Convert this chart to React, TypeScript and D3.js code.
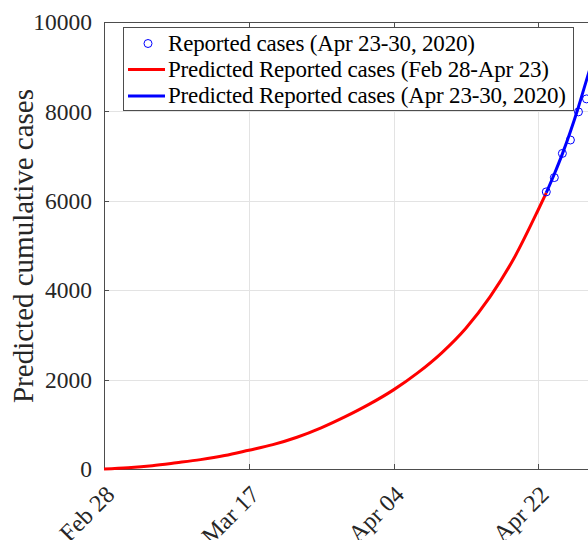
import React from 'react';
import * as d3 from 'd3';

// red fitted curve, Feb 28 - Apr 23
const fitDates = ['2020-02-28', '2020-03-02', '2020-03-05', '2020-03-08', '2020-03-11', '2020-03-14', '2020-03-17',
  '2020-03-20', '2020-03-23', '2020-03-26', '2020-03-29', '2020-04-01', '2020-04-04', '2020-04-07', '2020-04-10',
  '2020-04-13', '2020-04-16', '2020-04-19', '2020-04-22', '2020-04-23'];
const fitValues = [0, 30, 75, 140, 210, 300, 420, 545, 710, 920, 1170, 1450, 1770, 2150, 2600, 3150, 3850, 4720, 5800, 6180];

// blue prediction, Apr 23 - 30
const predDates = ['2020-04-23', '2020-04-24', '2020-04-25', '2020-04-26', '2020-04-27', '2020-04-28', '2020-04-29', '2020-04-30'];
const predValues = [6180, 6600, 7050, 7550, 8100, 8700, 9300, 9900];

// reported cases
const repDates = ['2020-04-23', '2020-04-24', '2020-04-25', '2020-04-26', '2020-04-27', '2020-04-28', '2020-04-29', '2020-04-30'];
const repValues = [6200, 6520, 7060, 7360, 7990, 8280, 8800, 9100];

const xTicks = ['2020-02-28', '2020-03-17', '2020-04-04', '2020-04-22', '2020-05-10'];
const yTicks = [0, 2000, 4000, 6000, 8000, 10000];

const legendLabels = [
  'Reported cases (Apr 23-30, 2020)',
  'Predicted Reported cases (Feb 28-Apr 23)',
  'Predicted Reported cases (Apr 23-30, 2020)',
];
const legendWidths = [307, 381, 398];

const W = 588;
const H = 540;
const serif = { fontFamily: "'Liberation Serif'" };

const parse = d3.utcParse('%Y-%m-%d');
const fmt = d3.utcFormat('%b %d');
const left = 104, top = 22, bottom = 469, right = 683;
const x = d3.scaleUtc().domain([parse('2020-02-28')!, parse('2020-05-10')!]).range([left, right]);
const y = d3.scaleLinear().domain([0, 10000]).range([bottom, top]);

type Pt = [string, number];
const line = d3.line<Pt>()
  .x(d => x(parse(d[0])!))
  .y(d => y(d[1]))
  .curve(d3.curveMonotoneX);

const fitPts = d3.zip<any>(fitDates, fitValues) as Pt[];
const predPts = d3.zip<any>(predDates, predValues) as Pt[];
const repPts = d3.zip<any>(repDates, repValues) as Pt[];

const px = (t: string) => Math.round(x(parse(t)!)) + 0.5;
const py = (v: number) => Math.round(y(v)) + 0.5;

const rowY = [43.5, 69.5, 96];

export default function App() {
  return (
    <svg width={W} height={H}
      style={{ position: 'absolute', left: 0, top: 0, background: '#fff', overflow: 'hidden' }}>
      {/* grid */}
      <g stroke="#e3e3e3" strokeWidth={1}>
        {xTicks.map(t => <line key={t} x1={px(t)} x2={px(t)} y1={top} y2={bottom} />)}
        {yTicks.map(v => <line key={v} x1={left} x2={right} y1={py(v)} y2={py(v)} />)}
      </g>

      {/* frame with inward ticks */}
      <g stroke="#4d4d4d" strokeWidth={1} fill="none">
        <rect x={left + 0.5} y={top + 0.5} width={right - left} height={bottom - top} />
        {xTicks.map(t => <line key={'b' + t} x1={px(t)} x2={px(t)} y1={bottom} y2={bottom - 5} />)}
        {xTicks.map(t => <line key={'t' + t} x1={px(t)} x2={px(t)} y1={top} y2={top + 5} />)}
        {yTicks.map(v => <line key={v} x1={left} x2={left + 5} y1={py(v)} y2={py(v)} />)}
      </g>

      {/* tick labels */}
      <g fill="#262626">
        {yTicks.map(v => (
          <text key={v} x={left - 12} y={y(v)} dy="0.35em" textAnchor="end" fontSize={23.5} style={serif}>{v}</text>
        ))}
        {xTicks.map(t => (
          <text key={t} transform={`translate(${x(parse(t)!) + 12},${bottom + 27}) rotate(-45)`}
            textAnchor="end" fontSize={24} style={serif}>{fmt(parse(t)!)}</text>
        ))}
        <text transform={`translate(33,246) rotate(-90)`} textAnchor="middle"
          fontSize={29} style={serif}>Predicted cumulative cases</text>
      </g>

      {/* curves */}
      <path d={line(fitPts)!} fill="none" stroke="#ff0000" strokeWidth={3} />
      <path d={line(predPts)!} fill="none" stroke="#0000ff" strokeWidth={3} />
      {repPts.map(d => (
        <circle key={d[0]} cx={x(parse(d[0])!)} cy={y(d[1])} r={4} fill="none" stroke="#0000ff" strokeWidth={1} />
      ))}

      {/* legend */}
      <rect x={123.5} y={27.5} width={450} height={83} fill="#fff" stroke="#4d4d4d" strokeWidth={1} />
      <circle cx={148} cy={rowY[0]} r={4} fill="none" stroke="#0000ff" strokeWidth={1} />
      <line x1={128} x2={165} y1={rowY[1]} y2={rowY[1]} stroke="#ff0000" strokeWidth={3} />
      <line x1={128} x2={165} y1={rowY[2]} y2={rowY[2]} stroke="#0000ff" strokeWidth={3} />
      {legendLabels.map((s, i) => (
        <text key={s} x={168} y={rowY[i] + 7} fontSize={23} fill="#000" style={serif}
          textLength={legendWidths[i]} lengthAdjust="spacing">{s}</text>
      ))}
    </svg>
  );
}
